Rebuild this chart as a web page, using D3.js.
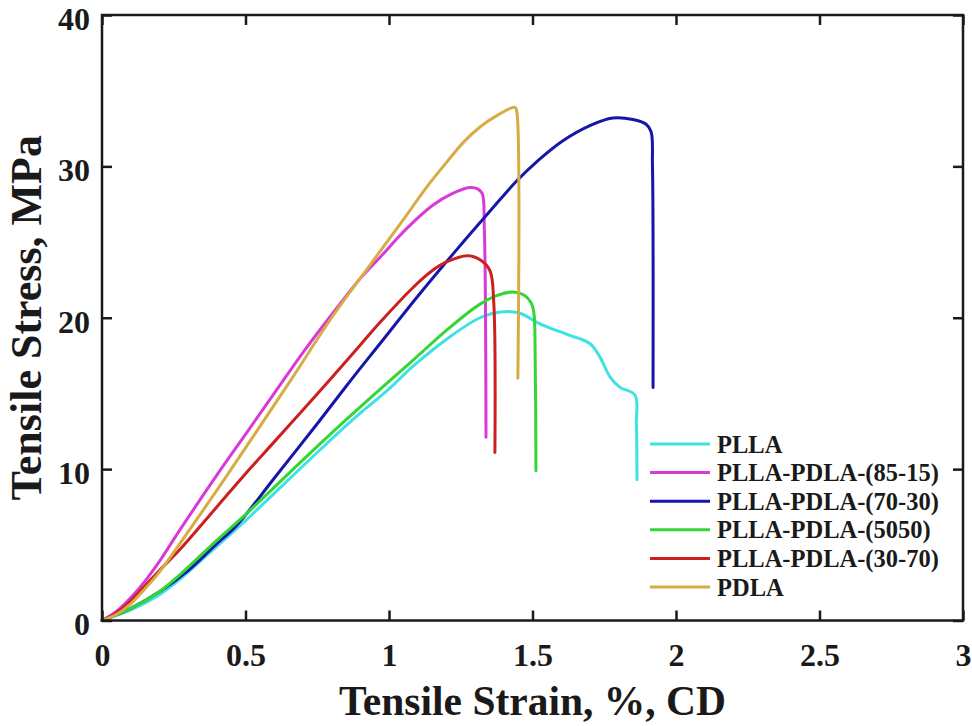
<!DOCTYPE html>
<html>
<head>
<meta charset="utf-8">
<script src="https://cdn.jsdelivr.net/npm/d3@7/dist/d3.min.js"></script>
<style>
  html, body { margin: 0; padding: 0; background: #fff; }
  svg { display: block; }
  text { font-family: "Liberation Serif", "Times New Roman", serif; font-weight: bold; fill: #1a1a1a; }
</style>
</head>
<body>
<svg id="chart" width="972" height="726"></svg>
<script>
// Stress–strain curves, [strain %, stress MPa]
const plla = [[0,0],[0.1,0.7],[0.2,1.7],[0.27,2.7],[0.4,4.9],[0.5,6.6],[0.6,8.4],[0.75,11.1],[0.87,13.2],[1.0,15.3],[1.084,16.8],[1.202,18.6],[1.317,20.0],[1.397,20.4],[1.456,20.3],[1.526,19.6],[1.62,18.9],[1.70,18.3],[1.735,17.4],[1.77,16.1],[1.805,15.4],[1.857,14.9],[1.862,13.0],[1.864,9.3]];
const blend8515 = [[0,0],[0.05,0.6],[0.1,1.5],[0.15,2.6],[0.2,3.9],[0.272,6.0],[0.4,9.6],[0.5,12.3],[0.6,15.0],[0.7,17.7],[0.8,20.2],[0.9,22.6],[0.969,24.0],[1.062,25.9],[1.15,27.4],[1.22,28.2],[1.282,28.6],[1.31,28.5],[1.325,28.2],[1.332,26.0],[1.338,12.1]];
const blend7030 = [[0,0],[0.1,0.8],[0.2,1.9],[0.3,3.3],[0.39,4.9],[0.47,6.3],[0.6,9.4],[0.75,13.0],[0.864,15.8],[0.969,18.3],[1.108,21.6],[1.236,24.5],[1.35,27.0],[1.443,29.0],[1.52,30.4],[1.606,31.7],[1.7,32.7],[1.78,33.2],[1.85,33.1],[1.895,32.8],[1.913,32.3],[1.918,30.0],[1.92,15.4]];
const blend5050 = [[0,0],[0.1,0.8],[0.2,1.9],[0.27,3.0],[0.4,5.3],[0.5,7.0],[0.6,8.8],[0.75,11.5],[0.87,13.6],[1.0,15.8],[1.084,17.2],[1.202,19.2],[1.317,20.9],[1.38,21.5],[1.432,21.7],[1.47,21.5],[1.495,21.0],[1.505,20.3],[1.509,18.0],[1.512,9.9]];
const blend3070 = [[0,0],[0.05,0.5],[0.1,1.3],[0.15,2.3],[0.2,3.3],[0.272,4.7],[0.4,7.5],[0.5,9.7],[0.6,11.8],[0.7,13.9],[0.794,15.9],[0.9,18.2],[0.969,19.7],[1.084,22.0],[1.15,23.1],[1.202,23.7],[1.275,24.1],[1.32,23.8],[1.352,23.1],[1.365,21.0],[1.369,11.1]];
const pdla = [[0,0],[0.05,0.4],[0.1,1.1],[0.15,2.1],[0.2,3.2],[0.272,5.1],[0.4,8.6],[0.5,11.4],[0.655,15.8],[0.8,20.0],[0.923,23.2],[1.0,25.2],[1.062,26.8],[1.13,28.6],[1.202,30.3],[1.26,31.6],[1.317,32.6],[1.38,33.4],[1.439,33.9],[1.446,33.5],[1.449,16.0]];

const seriesNames = ["PLLA", "PLLA-PDLA-(85-15)", "PLLA-PDLA-(70-30)", "PLLA-PDLA-(5050)", "PLLA-PDLA-(30-70)", "PDLA"];
const seriesData = [plla, blend8515, blend7030, blend5050, blend3070, pdla];
const seriesColors = ["#3fe2e4", "#d83ad8", "#1616aa", "#33d633", "#cc2020", "#d8ac44"];

const xTicks = [0, 0.5, 1, 1.5, 2, 2.5, 3];
const xTickLabels = ["0", "0.5", "1", "1.5", "2", "2.5", "3"];
const yTicks = [0, 10, 20, 30, 40];
const yTickLabels = ["0", "10", "20", "30", "40"];

const svg = d3.select("#chart");
const plotLeft = 102, plotRight = 963, plotTop = 15, plotBottom = 620.5;

const x = d3.scaleLinear().domain([0, 3]).range([plotLeft, plotRight]);
const y = d3.scaleLinear().domain([0, 40]).range([plotBottom, plotTop]);

const line = d3.line()
  .x(d => x(d[0]))
  .y(d => y(d[1]))
  .curve(d3.curveCatmullRom.alpha(0.5));

// curves, drawn in legend order
const plot = svg.append("g");
seriesData.forEach((s, i) => {
  plot.append("path")
    .datum(s)
    .attr("d", line)
    .attr("fill", "none")
    .attr("stroke", seriesColors[i])
    .attr("stroke-width", 3)
    .attr("stroke-linejoin", "round")
    .attr("stroke-linecap", "round");
});

// axes with inward ticks on all four sides
const tickFont = 32;
const axisColor = "#1a1a1a";

function styleAxis(g) {
  g.select(".domain").remove();
  g.selectAll(".tick line").attr("stroke", axisColor).attr("stroke-width", 2.5);
  g.selectAll(".tick text").attr("font-size", tickFont).attr("fill", axisColor)
    .style("font-family", '"Liberation Serif", "Times New Roman", serif').style("font-weight", "bold");
}

svg.append("g").attr("transform", `translate(0,${plotBottom})`)
  .call(d3.axisBottom(x).tickValues(xTicks).tickFormat((d, i) => xTickLabels[i]).tickSize(-10).tickPadding(23))
  .call(styleAxis);
svg.append("g").attr("transform", `translate(0,${plotTop})`)
  .call(d3.axisTop(x).tickValues(xTicks).tickFormat("").tickSize(-10))
  .call(styleAxis);
svg.append("g").attr("transform", `translate(${plotLeft},0)`)
  .call(d3.axisLeft(y).tickValues(yTicks).tickFormat((d, i) => yTickLabels[i]).tickSize(-10).tickPadding(12))
  .call(styleAxis)
  .call(g => g.selectAll(".tick text").attr("dy", "0.45em"));
svg.append("g").attr("transform", `translate(${plotRight},0)`)
  .call(d3.axisRight(y).tickValues(yTicks).tickFormat("").tickSize(-10))
  .call(styleAxis);

// plot frame
svg.append("rect")
  .attr("x", plotLeft).attr("y", plotTop)
  .attr("width", plotRight - plotLeft).attr("height", plotBottom - plotTop)
  .attr("fill", "none").attr("stroke", axisColor).attr("stroke-width", 2.5);

// axis titles
svg.append("text")
  .attr("x", (plotLeft + plotRight) / 2).attr("y", 715)
  .attr("text-anchor", "middle")
  .attr("font-size", 41.5)
  .text("Tensile Strain, %, CD");
svg.append("text")
  .attr("transform", `translate(41,${(plotTop + plotBottom) / 2}) rotate(-90)`)
  .attr("text-anchor", "middle")
  .attr("font-size", 44)
  .text("Tensile Stress, MPa");

// legend
const legend = svg.append("g").attr("transform", "translate(650,444)");
seriesNames.forEach((name, i) => {
  const row = legend.append("g").attr("transform", `translate(0,${i * 28.6})`);
  row.append("line")
    .attr("x1", 0).attr("x2", 60).attr("y1", 0).attr("y2", 0)
    .attr("stroke", seriesColors[i]).attr("stroke-width", 3);
  row.append("text")
    .attr("x", 67).attr("y", 0).attr("dy", "0.35em")
    .attr("font-size", 24.5)
    .text(name);
});
</script>
</body>
</html>
